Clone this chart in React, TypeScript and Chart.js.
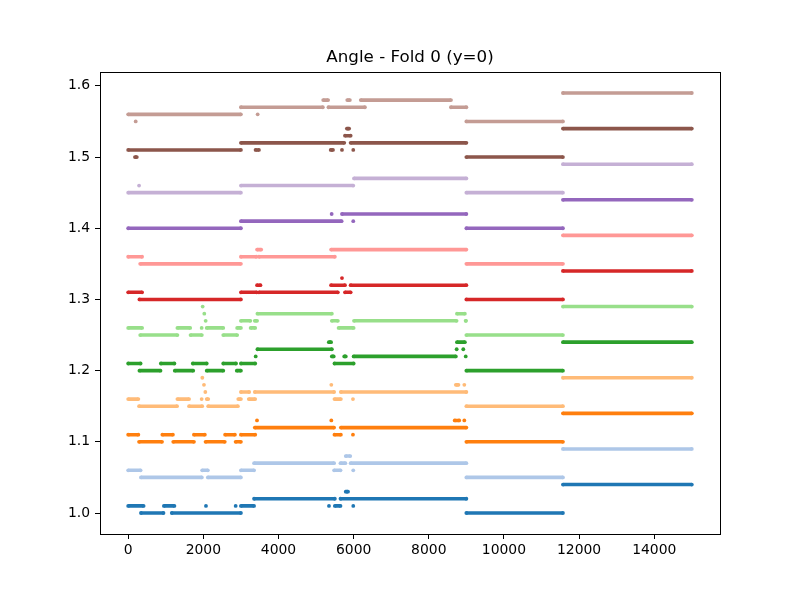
import { useEffect, useRef } from "react";
import { Chart, registerables } from "chart.js";

Chart.register(...registerables);

// each segment: [x start, x end, value]; start === end means a single point
type Seg = [number, number, number];

const title = "Angle - Fold 0 (y=0)";
const xTicks = [0, 2000, 4000, 6000, 8000, 10000, 12000, 14000];
const yTicks = [1.0, 1.1, 1.2, 1.3, 1.4, 1.5, 1.6];

const colors = [
  "#1f77b4", "#aec7e8", "#ff7f0e", "#ffbb78", "#2ca02c", "#98df8a",
  "#d62728", "#ff9896", "#9467bd", "#c5b0d5", "#8c564b", "#c49c94",
];

const series0: Seg[] = [
  [0, 410, 1.01], [950, 1230, 1.01], [2070, 2070, 1.01], [2860, 2860, 1.01], [3000, 3350, 1.01],
  [340, 940, 1.0], [1160, 3000, 1.0],
  [3350, 5500, 1.02], [5650, 9000, 1.02],
  [5790, 5850, 1.03],
  [5344, 5344, 1.01], [5500, 5650, 1.01], [5990, 5990, 1.01],
  [9000, 11570, 1.0], [11570, 15000, 1.04],
];

const series1: Seg[] = [
  [0, 330, 1.06], [1970, 2120, 1.06], [3000, 3350, 1.06],
  [340, 1960, 1.05], [2120, 3000, 1.05],
  [3350, 5480, 1.07], [5650, 5780, 1.07], [5920, 9000, 1.07],
  [5790, 5910, 1.08],
  [5480, 5650, 1.06], [5990, 5990, 1.06],
  [9000, 11570, 1.05], [11570, 15000, 1.09],
];

const series2: Seg[] = [
  [0, 270, 1.11], [910, 1190, 1.11], [1750, 2040, 1.11], [2580, 2840, 1.11], [3000, 3380, 1.11],
  [290, 900, 1.1], [1200, 1750, 1.1], [2060, 2570, 1.1], [2860, 3000, 1.1],
  [3370, 5480, 1.12], [5660, 9000, 1.12],
  [3428, 3428, 1.13], [5406, 5406, 1.13], [8690, 8810, 1.13], [8945, 8945, 1.13],
  [5490, 5660, 1.11], [5982, 5982, 1.11],
  [9000, 11570, 1.1], [11570, 15000, 1.14],
];

const series3: Seg[] = [
  [1973, 1973, 1.19], [2017, 2017, 1.18],
  [2053, 2053, 1.17], [3000, 3220, 1.17], [3370, 5480, 1.17], [5660, 9000, 1.17],
  [0, 270, 1.16], [1310, 1620, 1.16], [1955, 1955, 1.16], [2090, 2130, 1.16], [2930, 3000, 1.16], [3210, 3380, 1.16],
  [290, 1300, 1.15], [1620, 1970, 1.15], [2130, 2920, 1.15],
  [5406, 5406, 1.18], [8720, 8790, 1.18], [8945, 8945, 1.18],
  [5490, 5660, 1.16], [5982, 5982, 1.16],
  [9000, 11570, 1.15], [11570, 15000, 1.19],
];

const series4: Seg[] = [
  [0, 330, 1.21], [870, 1230, 1.21], [1720, 2090, 1.21], [2530, 2870, 1.21], [3000, 3380, 1.21],
  [300, 860, 1.2], [1240, 1730, 1.2], [2090, 2530, 1.2], [2890, 3000, 1.2],
  [3393, 3393, 1.22],
  [3440, 5420, 1.23], [8742, 8742, 1.23], [8918, 8918, 1.23],
  [5340, 5400, 1.24], [8750, 8960, 1.24],
  [5420, 5470, 1.22], [5750, 5790, 1.22], [6000, 8720, 1.22], [8983, 8983, 1.22],
  [5490, 6000, 1.21],
  [9000, 11570, 1.2], [11570, 15000, 1.24],
];

const series5: Seg[] = [
  [1982, 1982, 1.29],
  [2026, 2026, 1.28], [3440, 5420, 1.28], [8750, 8960, 1.28],
  [2062, 2062, 1.27], [3000, 3250, 1.27], [3370, 3430, 1.27], [5420, 5580, 1.27], [6010, 8740, 1.27], [8980, 8990, 1.27],
  [0, 370, 1.26], [1310, 1650, 1.26], [1955, 1955, 1.26], [2090, 2530, 1.26], [2900, 3000, 1.26], [3260, 3380, 1.26], [5600, 6000, 1.26],
  [320, 1310, 1.25], [1660, 1960, 1.25], [2530, 2900, 1.25],
  [9000, 11570, 1.25], [11570, 15000, 1.29],
];

const series6: Seg[] = [
  [0, 370, 1.31], [3000, 3420, 1.31], [3480, 5580, 1.31], [5770, 5920, 1.31],
  [300, 3000, 1.3],
  [3430, 3520, 1.32], [5400, 5770, 1.32], [5920, 9000, 1.32],
  [5690, 5690, 1.33],
  [9000, 11570, 1.3], [11570, 15000, 1.34],
];

const series7: Seg[] = [
  [0, 370, 1.36], [3000, 3410, 1.36], [3480, 5500, 1.36],
  [320, 3000, 1.35],
  [3430, 3540, 1.37], [5400, 9000, 1.37],
  [9000, 11570, 1.35], [11570, 15000, 1.39],
];

const series8: Seg[] = [
  [0, 3000, 1.4],
  [3000, 5680, 1.41], [5990, 5990, 1.41],
  [5415, 5415, 1.42], [5690, 9000, 1.42],
  [9000, 11570, 1.4], [11570, 15000, 1.44],
];

const series9: Seg[] = [
  [0, 3000, 1.45],
  [290, 290, 1.46], [3000, 5990, 1.46],
  [6010, 9000, 1.47],
  [9000, 11570, 1.45], [11570, 15000, 1.49],
];

const series10: Seg[] = [
  [0, 3000, 1.51], [3390, 3480, 1.51], [5390, 5450, 1.51], [5690, 5690, 1.51], [5990, 5990, 1.51],
  [180, 230, 1.5],
  [3000, 5750, 1.52], [5920, 9000, 1.52],
  [5770, 5920, 1.53],
  [5820, 5880, 1.54],
  [9000, 11570, 1.5], [11570, 15000, 1.54],
];

const series11: Seg[] = [
  [0, 3000, 1.56], [3446, 3446, 1.56],
  [200, 200, 1.55],
  [3000, 5180, 1.57], [5330, 6300, 1.57], [8590, 9000, 1.57],
  [5190, 5320, 1.58], [5830, 5900, 1.58], [6190, 8590, 1.58],
  [9000, 11570, 1.55], [11570, 15000, 1.59],
];

const allSeries = [
  series0, series1, series2, series3, series4, series5,
  series6, series7, series8, series9, series10, series11,
];

function toPoints(segs: Seg[]) {
  const pts: { x: number; y: number | null }[] = [];
  for (const [x0, x1, v] of segs) {
    pts.push({ x: x0, y: v });
    if (x1 !== x0) pts.push({ x: x1, y: v });
    pts.push({ x: x1, y: null });
  }
  return pts;
}

// axes frame on all four sides, plus the title centred over the plot area
const frame = {
  id: "frame",
  afterDatasetsDraw(chart: Chart) {
    const { ctx, chartArea: a } = chart;
    ctx.save();
    ctx.strokeStyle = "#000";
    ctx.lineWidth = 1;
    ctx.strokeRect(Math.round(a.left) + 0.5, Math.round(a.top) + 0.5, Math.round(a.right - a.left), Math.round(a.bottom - a.top));
    ctx.fillStyle = "#000";
    ctx.font = "16.7px 'DejaVu Sans'";
    ctx.textAlign = "center";
    ctx.textBaseline = "middle";
    ctx.fillText(title, (a.left + a.right) / 2, a.top - 14);
    ctx.restore();
  },
};

const tickFont = { family: "DejaVu Sans", size: 13.9 };

export default function App() {
  const chartRef = useRef<HTMLCanvasElement>(null);
  const chartInstance = useRef<Chart | null>(null);

  useEffect(() => {
    if (!chartRef.current) return;
    if (chartInstance.current) chartInstance.current.destroy();

    const datasets = allSeries.map((segs, i) => ({
      label: `series ${i}`,
      data: toPoints(segs),
      borderColor: colors[i],
      backgroundColor: colors[i],
      borderWidth: 3.6,
      borderCapStyle: "butt" as const,
      pointRadius: 1.9,
      pointBorderWidth: 0,
      pointBackgroundColor: colors[i],
      tension: 0,
      spanGaps: false,
    }));

    chartInstance.current = new Chart(chartRef.current, {
      type: "line",
      data: { datasets },
      plugins: [frame],
      options: {
        responsive: false,
        animation: false,
        layout: { padding: { left: 0, right: 80, top: 72, bottom: 0 } },
        plugins: {
          legend: { display: false },
          tooltip: { enabled: false },
          title: { display: false },
        },
        scales: {
          x: {
            type: "linear",
            min: -750,
            max: 15750,
            afterBuildTicks: (s) => {
              s.ticks = xTicks.map((v) => ({ value: v }));
            },
            afterFit: (s) => {
              s.height = 66;
            },
            grid: { drawOnChartArea: false, drawTicks: true, tickLength: 5, tickColor: "#000", tickWidth: 1 },
            border: { display: false },
            ticks: {
              color: "#000",
              font: tickFont,
              padding: 3,
              maxRotation: 0,
              autoSkip: false,
              callback: (v) => String(v),
            },
          },
          y: {
            type: "linear",
            min: 0.9705,
            max: 1.6195,
            afterBuildTicks: (s) => {
              s.ticks = yTicks.map((v) => ({ value: v }));
            },
            afterFit: (s) => {
              s.width = 100;
            },
            grid: { drawOnChartArea: false, drawTicks: true, tickLength: 5, tickColor: "#000", tickWidth: 1 },
            border: { display: false },
            ticks: {
              color: "#000",
              font: tickFont,
              padding: 5,
              autoSkip: false,
              callback: (v) => Number(v).toFixed(1),
            },
          },
        },
      },
    });

    return () => {
      if (chartInstance.current) {
        chartInstance.current.destroy();
        chartInstance.current = null;
      }
    };
  }, []);

  return (
    <div style={{ position: "fixed", left: 0, top: 0, width: 800, height: 600, background: "#fff" }}>
      <canvas ref={chartRef} width={800} height={600} style={{ display: "block" }} />
    </div>
  );
}
